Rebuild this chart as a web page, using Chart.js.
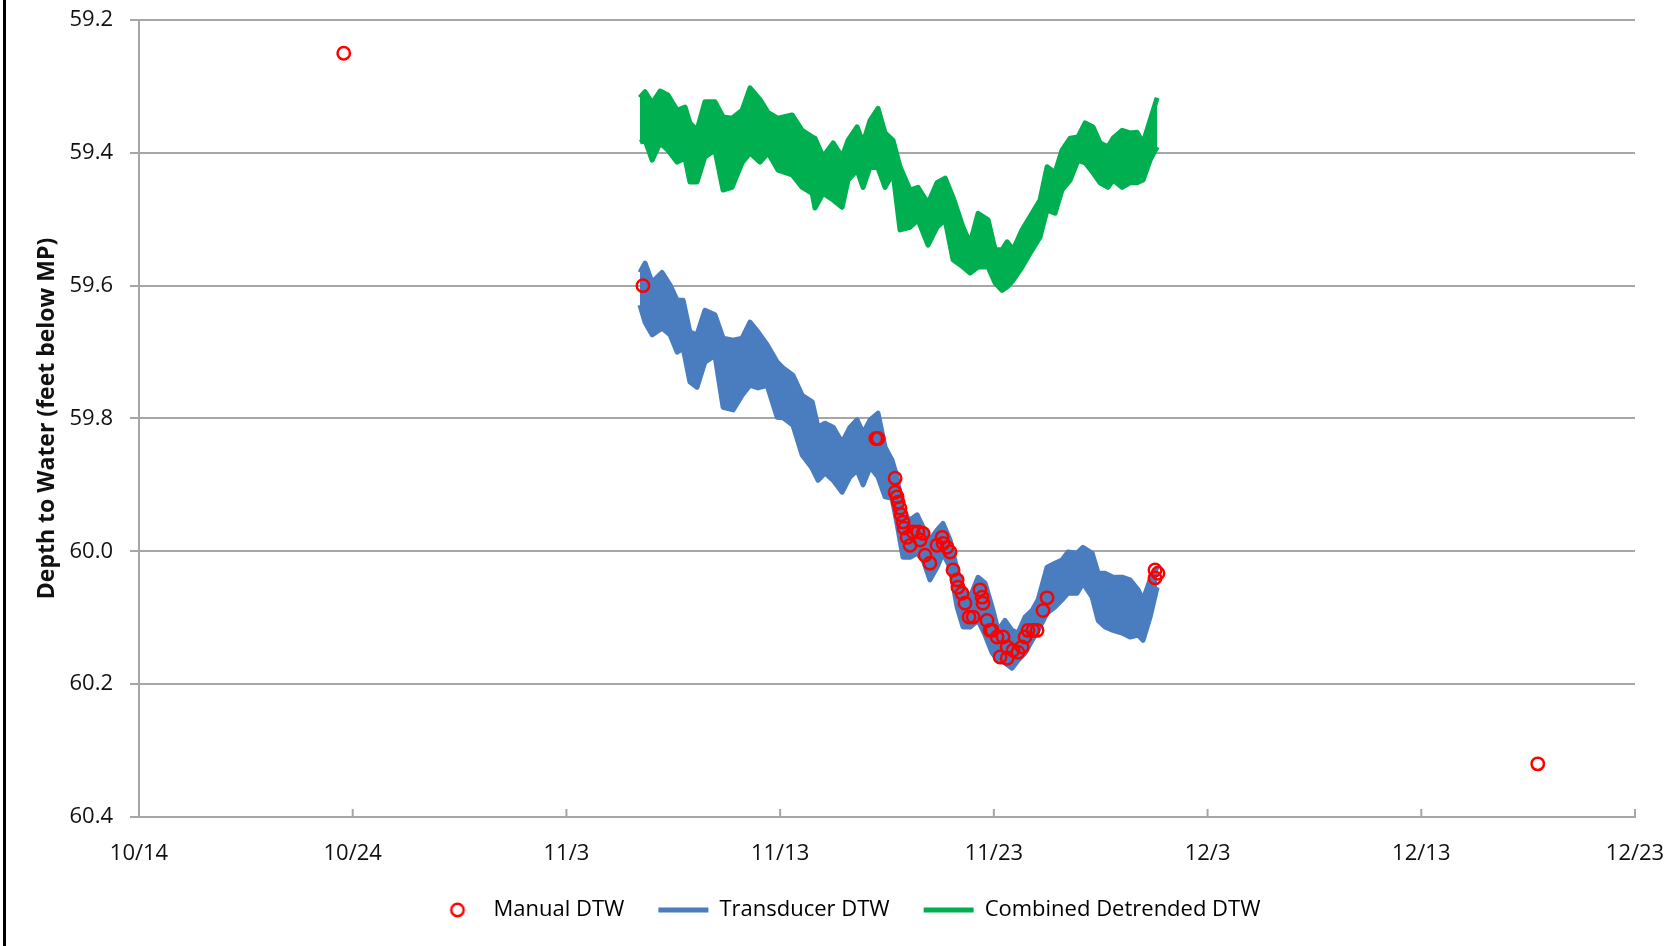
<!DOCTYPE html>
<html>
<head>
<meta charset="utf-8">
<title>Depth to Water</title>
<script src="https://cdn.jsdelivr.net/npm/chart.js@4.4.1/dist/chart.umd.min.js"></script>
<style>
  html, body { margin: 0; padding: 0; background: #fff; }
  #wrap { position: relative; width: 1679px; height: 946px; }
  #edge { position: absolute; left: 3px; top: 0; width: 3px; height: 946px; background: #000; }
</style>
</head>
<body>
<div id="wrap">
  <canvas id="dtwChart" width="1679" height="946"></canvas>
  <div id="edge"></div>
</div>
<script>
// x values are days after 10/14
const xTickLabels = ['10/14', '10/24', '11/3', '11/13', '11/23', '12/3', '12/13', '12/23'];

// Manual DTW readings
const manualDays = [9.58, 23.58, 34.48, 34.58, 35.38, 35.38, 35.47, 35.52, 35.61, 35.66, 35.75, 35.80,
    35.94, 36.08, 36.22, 36.45, 36.69, 36.55, 36.78, 37.01, 37.34, 37.58, 37.62, 37.81, 37.95, 38.09,
    38.28, 38.32, 38.51, 38.65, 38.84, 39.03, 39.35, 39.45, 39.49, 39.68, 39.82, 39.92, 40.15, 40.43,
    40.62, 40.29, 40.62, 40.90, 41.13, 41.32, 41.46, 41.60, 41.83, 42.02, 42.30, 42.49, 47.54, 47.54,
    47.68, 65.45];
const manualDTW = [59.25, 59.60, 59.83, 59.83, 59.89, 59.911, 59.918, 59.926, 59.935, 59.945, 59.956, 59.965,
    59.979, 59.991, 59.971, 59.971, 59.973, 59.983, 60.006, 60.018, 59.991, 59.979, 59.988, 59.994, 60.001, 60.028,
    60.043, 60.054, 60.063, 60.078, 60.099, 60.099, 60.058, 60.069, 60.078, 60.104, 60.119, 60.119, 60.129, 60.129,
    60.144, 60.159, 60.161, 60.149, 60.152, 60.144, 60.129, 60.119, 60.119, 60.119, 60.089, 60.070, 60.028, 60.040,
    60.033, 60.32];

// Transducer DTW - upper and lower edge of the daily swing
const transducerDays = [23.44, 23.68, 24.01, 24.47, 24.85, 25.18, 25.46, 25.78, 26.11, 26.48, 26.95, 27.33,
    27.80, 28.22, 28.59, 28.97, 29.39, 29.86, 30.14, 30.60, 31.03, 31.50, 31.77, 32.10, 32.48, 32.90,
    33.27, 33.60, 33.88, 34.21, 34.58, 34.91, 35.24, 35.47, 35.75, 36.08, 36.41, 36.69, 37.01, 37.34,
    37.62, 37.95, 38.28, 38.56, 38.89, 39.26, 39.59, 39.92, 40.20, 40.52, 40.85, 41.13, 41.46, 41.79,
    42.07, 42.49, 42.86, 43.19, 43.47, 43.89, 44.17, 44.60, 44.88, 45.20, 45.58, 46.00, 46.37, 46.75,
    46.98, 47.31, 47.64];
const transducerHigh = [59.580, 59.566, 59.595, 59.580, 59.599, 59.622, 59.622, 59.670, 59.674, 59.637, 59.644, 59.679,
    59.682, 59.679, 59.655, 59.670, 59.689, 59.715, 59.724, 59.735, 59.765, 59.775, 59.813, 59.807, 59.813, 59.836,
    59.813, 59.802, 59.822, 59.802, 59.792, 59.843, 59.863, 59.888, 59.942, 59.953, 59.945, 59.964, 59.983, 59.968,
    59.958, 59.983, 60.028, 60.054, 60.069, 60.039, 60.048, 60.084, 60.119, 60.104, 60.119, 60.123, 60.099, 60.089,
    60.073, 60.024, 60.018, 60.013, 60.001, 60.003, 59.994, 60.003, 60.033, 60.033, 60.039, 60.039, 60.043, 60.058,
    60.073, 60.043, 60.024];
const transducerLow = [59.629, 59.655, 59.674, 59.664, 59.674, 59.700, 59.694, 59.745, 59.753, 59.715, 59.705, 59.783,
    59.787, 59.765, 59.750, 59.754, 59.750, 59.798, 59.799, 59.810, 59.855, 59.875, 59.893, 59.882, 59.893, 59.911,
    59.888, 59.878, 59.900, 59.873, 59.888, 59.918, 59.920, 59.958, 60.009, 60.009, 60.003, 60.013, 60.043, 60.024,
    60.003, 60.024, 60.084, 60.114, 60.114, 60.104, 60.126, 60.153, 60.164, 60.168, 60.176, 60.164, 60.153, 60.134,
    60.119, 60.093, 60.084, 60.073, 60.063, 60.063, 60.048, 60.069, 60.104, 60.114, 60.119, 60.123, 60.129, 60.126,
    60.134, 60.099, 60.054];

// Combined Detrended DTW - upper and lower edge
const combinedDays = [23.44, 23.68, 24.01, 24.38, 24.75, 25.18, 25.55, 25.78, 26.11, 26.48, 26.95, 27.33,
    27.75, 28.22, 28.59, 29.06, 29.43, 29.90, 30.56, 31.03, 31.50, 31.63, 32.01, 32.48, 32.90, 33.18,
    33.60, 33.88, 34.21, 34.58, 34.91, 35.28, 35.61, 36.08, 36.45, 36.92, 37.34, 37.72, 38.09, 38.56,
    38.89, 39.26, 39.73, 40.06, 40.38, 40.62, 40.90, 41.32, 41.79, 42.16, 42.49, 42.86, 43.19, 43.57,
    43.94, 44.27, 44.64, 44.97, 45.34, 45.58, 46.00, 46.37, 46.70, 46.98, 47.31, 47.64];
const combinedHigh = [59.317, 59.308, 59.325, 59.307, 59.313, 59.336, 59.331, 59.355, 59.366, 59.323, 59.323, 59.346,
    59.348, 59.336, 59.302, 59.320, 59.339, 59.348, 59.343, 59.366, 59.376, 59.378, 59.406, 59.385, 59.406, 59.381,
    59.361, 59.385, 59.351, 59.333, 59.370, 59.381, 59.421, 59.456, 59.452, 59.476, 59.445, 59.438, 59.467, 59.512,
    59.536, 59.491, 59.501, 59.546, 59.546, 59.534, 59.546, 59.516, 59.491, 59.471, 59.421, 59.430, 59.396, 59.378,
    59.376, 59.355, 59.361, 59.385, 59.391, 59.378, 59.366, 59.370, 59.369, 59.385, 59.351, 59.317];
const combinedLow = [59.384, 59.381, 59.411, 59.385, 59.396, 59.414, 59.408, 59.444, 59.444, 59.406, 59.396, 59.456,
    59.452, 59.415, 59.400, 59.414, 59.400, 59.426, 59.433, 59.452, 59.461, 59.483, 59.461, 59.471, 59.482, 59.441,
    59.426, 59.452, 59.421, 59.423, 59.452, 59.430, 59.516, 59.512, 59.501, 59.539, 59.512, 59.501, 59.561, 59.572,
    59.581, 59.572, 59.572, 59.596, 59.607, 59.602, 59.592, 59.572, 59.546, 59.527, 59.486, 59.491, 59.456, 59.441,
    59.411, 59.415, 59.430, 59.445, 59.452, 59.441, 59.452, 59.445, 59.445, 59.441, 59.411, 59.391];

const toPoints = (days, values) => days.map((d, i) => ({ x: d, y: values[i] }));

const gridGray = '#a6a6a6';
const blue = '#4a7dbf';
const green = '#00b050';
const red = '#ff0000';

// small open red circle for the legend entry
const legendCircle = document.createElement('canvas');
legendCircle.width = 18;
legendCircle.height = 18;
const lc = legendCircle.getContext('2d');
lc.strokeStyle = red;
lc.lineWidth = 2.5;
lc.beginPath();
lc.arc(9, 9, 6.2, 0, Math.PI * 2);
lc.stroke();

// Excel style tick marks pointing up into the plot
const insideTicks = {
    id: 'insideTicks',
    afterDraw(chart) {
        const { ctx, chartArea, scales: { x } } = chart;
        ctx.save();
        ctx.strokeStyle = gridGray;
        ctx.lineWidth = 2;
        x.ticks.forEach(t => {
            const px = x.getPixelForValue(t.value);
            ctx.beginPath();
            ctx.moveTo(px, chartArea.bottom);
            ctx.lineTo(px, chartArea.bottom - 8);
            ctx.stroke();
        });
        ctx.restore();
    }
};

// nudge the legend row a bit to the right
const legendShift = {
    id: 'legendShift',
    afterLayout(chart) {
        chart.legend.left += 27;
        chart.legend.right += 27;
    }
};

Chart.defaults.font.family = "'Open Sans', sans-serif";
Chart.defaults.color = '#111';

const band = (label, days, values, color, fill) => ({
    label: label,
    data: toPoints(days, values),
    borderColor: color,
    backgroundColor: color,
    borderWidth: 5,
    borderJoinStyle: 'round',
    pointRadius: 0,
    pointStyle: 'line',
    tension: 0,
    fill: fill
});

new Chart(document.getElementById('dtwChart'), {
    type: 'line',
    data: {
        datasets: [
            {
                label: 'Manual DTW',
                data: toPoints(manualDays, manualDTW),
                showLine: false,
                borderColor: red,
                backgroundColor: 'rgba(0,0,0,0)',
                borderWidth: 2.5,
                pointRadius: 6.2,
                pointStyle: 'circle'
            },
            band('Transducer DTW', transducerDays, transducerHigh, blue, '+1'),
            band('', transducerDays, transducerLow, blue, false),
            band('Combined Detrended DTW', combinedDays, combinedHigh, green, '+1'),
            band('', combinedDays, combinedLow, green, false)
        ]
    },
    options: {
        responsive: false,
        animation: false,
        devicePixelRatio: 1,
        layout: { padding: { top: 20, right: 44, bottom: 15, left: 4 } },
        scales: {
            x: {
                type: 'linear',
                min: 0,
                max: 70,
                afterFit: scale => {
                    scale.height = 48;
                    scale.paddingLeft = 0;
                    scale.paddingRight = 0;
                },
                ticks: {
                    stepSize: 10,
                    padding: 24,
                    font: { size: 22 },
                    maxRotation: 0,
                    callback: value => xTickLabels[Math.round(value / 10)]
                },
                grid: { drawOnChartArea: false, drawTicks: false },
                border: { color: gridGray, width: 2 }
            },
            y: {
                reverse: true,
                min: 59.2,
                max: 60.4,
                afterFit: scale => {
                    scale.width = 135;
                    scale.paddingTop = 0;
                    scale.paddingBottom = 0;
                },
                ticks: {
                    stepSize: 0.2,
                    padding: 17,
                    font: { size: 22 },
                    callback: value => Number(value).toFixed(1)
                },
                grid: { color: gridGray, lineWidth: 2, tickLength: 9 },
                border: { color: gridGray, width: 2 },
                title: {
                    display: true,
                    text: 'Depth to Water (feet below MP)',
                    font: { size: 23, weight: 'bold' },
                    padding: { top: 30, bottom: 0 }
                }
            }
        },
        plugins: {
            tooltip: { enabled: false },
            legend: {
                position: 'bottom',
                labels: {
                    usePointStyle: true,
                    pointStyleWidth: 50,
                    boxHeight: 8.5,
                    padding: 34,
                    color: '#000',
                    font: { size: 22 },
                    filter: item => item.text !== '',
                    generateLabels(chart) {
                        const items = Chart.defaults.plugins.legend.labels.generateLabels(chart);
                        items.forEach(item => {
                            const ds = chart.data.datasets[item.datasetIndex];
                            const isLine = ds.showLine !== false;
                            item.pointStyle = isLine ? 'line' : legendCircle;
                            item.strokeStyle = ds.borderColor;
                            item.fillStyle = 'rgba(0,0,0,0)';
                            item.lineWidth = isLine ? 5 : 2;
                        });
                        return items;
                    }
                }
            }
        }
    },
    plugins: [insideTicks, legendShift]
});
</script>
</body>
</html>
